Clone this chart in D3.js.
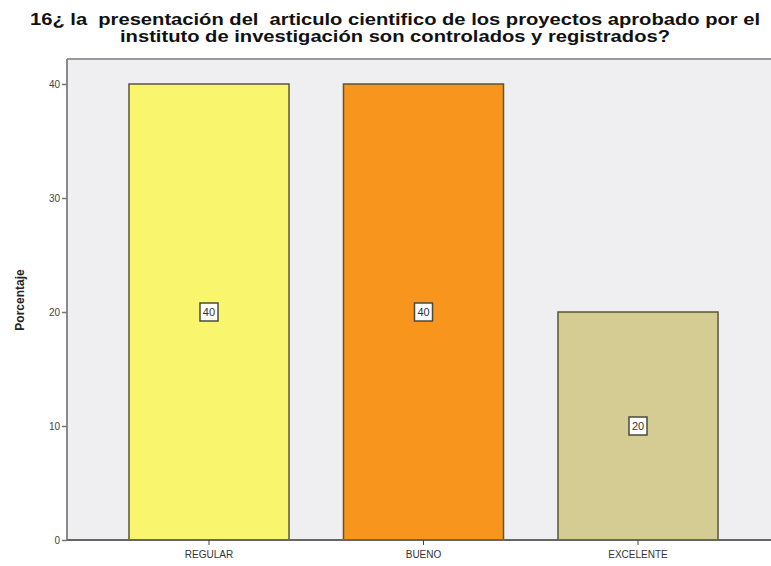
<!DOCTYPE html>
<html><head><meta charset="utf-8">
<script src="https://cdn.jsdelivr.net/npm/d3@7"></script>
<style>body{margin:0;background:#fff}svg{display:block}</style>
</head><body>
<script>
const categories = ["REGULAR", "BUENO", "EXCELENTE"];
const values = [40, 40, 20];
const colors = ["#f9f56c", "#f7951d", "#d4cc92"];
const yTicks = [0, 10, 20, 30, 40];
const titleLines = ["16¿ la  presentación del  articulo cientifico de los proyectos aprobado por el", "instituto de investigación son controlados y registrados?"];
const yLabel = "Porcentaje";

const W = 771, H = 566;
const mLeft = 67, mTop = 59, mBottom = 540, rightExt = 780;
const svg = d3.select("body").append("svg").attr("width", W).attr("height", H);

svg.append("rect").attr("x", mLeft).attr("y", mTop).attr("width", W - mLeft).attr("height", mBottom - mTop).attr("fill", "#efeff1");
svg.append("line").attr("x1", mLeft).attr("x2", W).attr("y1", mTop).attr("y2", mTop).attr("stroke", "#9a9a9a").attr("stroke-width", 2);

const x = d3.scaleBand().domain(categories).range([mLeft, rightExt]).paddingInner(0.254).paddingOuter(0.289);
const y = d3.scaleLinear().domain([0, 40]).range([mBottom, 84]);

svg.selectAll("rect.bar").data(categories).enter().append("rect").attr("class", "bar")
  .attr("x", d => x(d)).attr("width", x.bandwidth())
  .attr("y", (d, i) => y(values[i])).attr("height", (d, i) => y(0) - y(values[i]))
  .attr("fill", (d, i) => colors[i]).attr("stroke", "#5a5638").attr("stroke-width", 1.5);

// value labels
const lab = svg.selectAll("g.lab").data(categories).enter().append("g")
  .attr("transform", (d, i) => `translate(${x(d) + x.bandwidth() / 2},${y(values[i] / 2)})`);
lab.append("rect").attr("x", -9).attr("y", -9).attr("width", 18).attr("height", 18)
  .attr("fill", "#fff").attr("stroke", "#4a4a3a").attr("stroke-width", 1.5);
lab.append("text").text((d, i) => values[i]).attr("text-anchor", "middle").attr("dy", "0.35em")
  .attr("font-family", "Liberation Sans, Arial, sans-serif").attr("font-size", 11).attr("fill", "#333");

// y axis
const ya = svg.append("g").attr("transform", `translate(${mLeft},0)`)
  .call(d3.axisLeft(y).tickValues(yTicks).tickSize(5).tickPadding(2));
ya.select(".domain").attr("stroke", "#8a8a8a").attr("stroke-width", 2).attr("d", `M0,${mTop}V${mBottom}`);
ya.selectAll(".tick line").attr("stroke", "#777").attr("stroke-width", 1.5);
ya.selectAll(".tick text").attr("font-family", "Liberation Sans, Arial, sans-serif").attr("font-size", 10).attr("fill", "#444");

// x axis
const xa = svg.append("g").attr("transform", `translate(0,${mBottom})`)
  .call(d3.axisBottom(x).tickSize(5).tickPadding(6));
xa.select(".domain").attr("stroke", "#666").attr("stroke-width", 2).attr("d", `M${mLeft},0H${W}`);
xa.selectAll(".tick line").attr("stroke", "#444").attr("stroke-width", 1);
xa.selectAll(".tick text").attr("font-family", "Liberation Sans, Arial, sans-serif").attr("font-size", 10).attr("fill", "#333");

// y label
svg.append("text").text(yLabel).attr("transform", `translate(24,300) rotate(-90)`)
  .attr("text-anchor", "middle").attr("font-family", "Liberation Sans, Arial, sans-serif")
  .attr("font-size", 12).attr("font-weight", "bold").attr("fill", "#222");

// title
const titleLen = [730, 550];
svg.selectAll("text.title").data(titleLines).enter().append("text").attr("class", "title")
  .attr("xml:space", "preserve")
  .text(d => d).attr("x", 395).attr("y", (d, i) => 25 + i * 17).attr("text-anchor", "middle")
  .attr("textLength", (d, i) => titleLen[i]).attr("lengthAdjust", "spacingAndGlyphs")
  .attr("font-family", "Liberation Sans, Arial, sans-serif").attr("font-size", 16).attr("font-weight", "bold").attr("fill", "#111");
</script>
</body></html>
